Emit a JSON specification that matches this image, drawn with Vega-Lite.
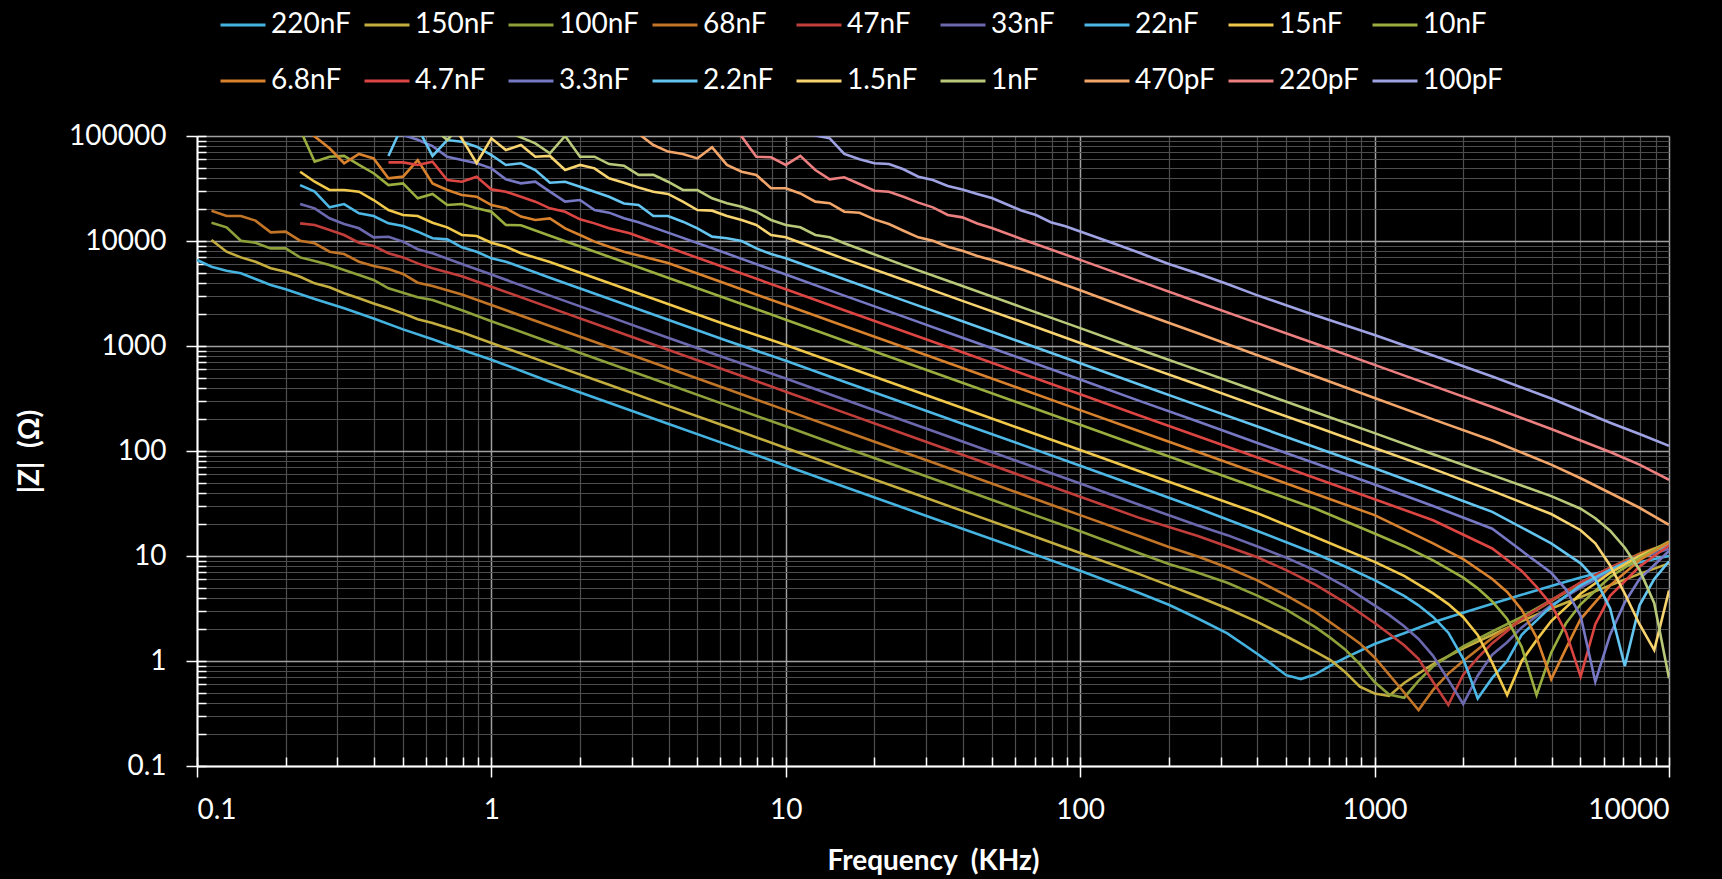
{
"$schema":"https://vega.github.io/schema/vega-lite/v6.json",
"width":1472,"height":630,
"autosize":{"type":"none"},
"padding":{"left":197,"top":136,"right":53,"bottom":113},
"background":"#000000",
"config":{"view":{"stroke":null},"axis":{"labelFont":"Lato","titleFont":"Lato"}},
"data":{"values":[
{"c":"220nF","f":0.1,"z":6590},{"c":"220nF","f":0.112,"z":5690},{"c":"220nF","f":0.126,"z":5210},{"c":"220nF","f":0.141,"z":4920},{"c":"220nF","f":0.158,"z":4345},{"c":"220nF","f":0.178,"z":3810},{"c":"220nF","f":0.2,"z":3470},{"c":"220nF","f":0.251,"z":2805},{"c":"220nF","f":0.316,"z":2285},{"c":"220nF","f":0.398,"z":1830},{"c":"220nF","f":0.501,"z":1440},{"c":"220nF","f":0.631,"z":1160},{"c":"220nF","f":0.794,"z":923},{"c":"220nF","f":1,"z":741},{"c":"220nF","f":1.58,"z":457},{"c":"220nF","f":2.51,"z":288},{"c":"220nF","f":3.98,"z":182},{"c":"220nF","f":6.31,"z":115},{"c":"220nF","f":10,"z":72.4},{"c":"220nF","f":15.8,"z":45.7},{"c":"220nF","f":25.1,"z":28.8},{"c":"220nF","f":39.8,"z":18.2},{"c":"220nF","f":63.1,"z":11.5},{"c":"220nF","f":100,"z":7.24},{"c":"220nF","f":158,"z":4.47},{"c":"220nF","f":200,"z":3.43},{"c":"220nF","f":251,"z":2.54},{"c":"220nF","f":316,"z":1.83},{"c":"220nF","f":398,"z":1.18},{"c":"220nF","f":447,"z":0.933},{"c":"220nF","f":501,"z":0.733},{"c":"220nF","f":562,"z":0.673},{"c":"220nF","f":631,"z":0.75},{"c":"220nF","f":708,"z":0.902},{"c":"220nF","f":794,"z":1.07},{"c":"220nF","f":1000,"z":1.45},{"c":"220nF","f":1260,"z":1.84},{"c":"220nF","f":1580,"z":2.34},{"c":"220nF","f":2000,"z":2.88},{"c":"220nF","f":2510,"z":3.51},{"c":"220nF","f":3160,"z":4.27},{"c":"220nF","f":3980,"z":5.19},{"c":"220nF","f":5010,"z":6.24},{"c":"220nF","f":6310,"z":7.41},{"c":"220nF","f":7940,"z":8.71},{"c":"220nF","f":10000,"z":10},
{"c":"150nF","f":0.112,"z":10230},{"c":"150nF","f":0.126,"z":7910},{"c":"150nF","f":0.141,"z":6980},{"c":"150nF","f":0.158,"z":6350},{"c":"150nF","f":0.178,"z":5500},{"c":"150nF","f":0.2,"z":5100},{"c":"150nF","f":0.224,"z":4570},{"c":"150nF","f":0.251,"z":3950},{"c":"150nF","f":0.282,"z":3620},{"c":"150nF","f":0.316,"z":3180},{"c":"150nF","f":0.355,"z":2845},{"c":"150nF","f":0.398,"z":2545},{"c":"150nF","f":0.447,"z":2285},{"c":"150nF","f":0.501,"z":2045},{"c":"150nF","f":0.562,"z":1795},{"c":"150nF","f":0.631,"z":1660},{"c":"150nF","f":0.794,"z":1350},{"c":"150nF","f":1,"z":1070},{"c":"150nF","f":1.58,"z":676},{"c":"150nF","f":2.51,"z":427},{"c":"150nF","f":3.98,"z":269},{"c":"150nF","f":6.31,"z":170},{"c":"150nF","f":10,"z":107},{"c":"150nF","f":15.8,"z":67.6},{"c":"150nF","f":25.1,"z":42.7},{"c":"150nF","f":39.8,"z":26.9},{"c":"150nF","f":63.1,"z":17},{"c":"150nF","f":100,"z":10.7},{"c":"150nF","f":158,"z":6.76},{"c":"150nF","f":200,"z":5.25},{"c":"150nF","f":251,"z":4.12},{"c":"150nF","f":316,"z":3.16},{"c":"150nF","f":398,"z":2.37},{"c":"150nF","f":501,"z":1.72},{"c":"150nF","f":631,"z":1.22},{"c":"150nF","f":708,"z":1.02},{"c":"150nF","f":794,"z":0.785},{"c":"150nF","f":891,"z":0.569},{"c":"150nF","f":1000,"z":0.49},{"c":"150nF","f":1120,"z":0.465},{"c":"150nF","f":1260,"z":0.617},{"c":"150nF","f":1580,"z":0.933},{"c":"150nF","f":2000,"z":1.32},{"c":"150nF","f":2510,"z":1.78},{"c":"150nF","f":3160,"z":2.4},{"c":"150nF","f":3980,"z":3.16},{"c":"150nF","f":5010,"z":4.07},{"c":"150nF","f":6310,"z":5.25},{"c":"150nF","f":7940,"z":6.76},{"c":"150nF","f":10000,"z":8.51},
{"c":"100nF","f":0.112,"z":14900},{"c":"100nF","f":0.126,"z":13500},{"c":"100nF","f":0.141,"z":10070},{"c":"100nF","f":0.158,"z":9640},{"c":"100nF","f":0.178,"z":8510},{"c":"100nF","f":0.2,"z":8510},{"c":"100nF","f":0.224,"z":6980},{"c":"100nF","f":0.251,"z":6455},{"c":"100nF","f":0.282,"z":5900},{"c":"100nF","f":0.316,"z":5295},{"c":"100nF","f":0.355,"z":4745},{"c":"100nF","f":0.398,"z":4255},{"c":"100nF","f":0.447,"z":3540},{"c":"100nF","f":0.501,"z":3220},{"c":"100nF","f":0.562,"z":2910},{"c":"100nF","f":0.631,"z":2740},{"c":"100nF","f":0.794,"z":2190},{"c":"100nF","f":1,"z":1720},{"c":"100nF","f":1.58,"z":1085},{"c":"100nF","f":2.51,"z":684},{"c":"100nF","f":3.98,"z":432},{"c":"100nF","f":6.31,"z":272},{"c":"100nF","f":10,"z":172},{"c":"100nF","f":15.8,"z":108},{"c":"100nF","f":25.1,"z":68.4},{"c":"100nF","f":39.8,"z":43.2},{"c":"100nF","f":63.1,"z":27.2},{"c":"100nF","f":100,"z":17.2},{"c":"100nF","f":158,"z":10.7},{"c":"100nF","f":200,"z":8.41},{"c":"100nF","f":251,"z":6.92},{"c":"100nF","f":316,"z":5.56},{"c":"100nF","f":398,"z":4.22},{"c":"100nF","f":501,"z":3.09},{"c":"100nF","f":631,"z":2.09},{"c":"100nF","f":708,"z":1.66},{"c":"100nF","f":794,"z":1.29},{"c":"100nF","f":891,"z":0.933},{"c":"100nF","f":1000,"z":0.631},{"c":"100nF","f":1120,"z":0.479},{"c":"100nF","f":1260,"z":0.447},{"c":"100nF","f":1410,"z":0.646},{"c":"100nF","f":1580,"z":0.891},{"c":"100nF","f":2000,"z":1.38},{"c":"100nF","f":2510,"z":1.91},{"c":"100nF","f":3160,"z":2.63},{"c":"100nF","f":3980,"z":3.8},{"c":"100nF","f":5010,"z":5.5},{"c":"100nF","f":6310,"z":7.59},{"c":"100nF","f":7940,"z":10},{"c":"100nF","f":10000,"z":12.6},
{"c":"68nF","f":0.112,"z":19450},{"c":"68nF","f":0.126,"z":17300},{"c":"68nF","f":0.141,"z":17300},{"c":"68nF","f":0.158,"z":15630},{"c":"68nF","f":0.178,"z":12100},{"c":"68nF","f":0.2,"z":12270},{"c":"68nF","f":0.224,"z":10070},{"c":"68nF","f":0.251,"z":9510},{"c":"68nF","f":0.282,"z":7910},{"c":"68nF","f":0.316,"z":7520},{"c":"68nF","f":0.355,"z":6350},{"c":"68nF","f":0.398,"z":5780},{"c":"68nF","f":0.447,"z":5410},{"c":"68nF","f":0.501,"z":4850},{"c":"68nF","f":0.562,"z":4010},{"c":"68nF","f":0.631,"z":3720},{"c":"68nF","f":0.794,"z":3090},{"c":"68nF","f":1,"z":2455},{"c":"68nF","f":1.58,"z":1550},{"c":"68nF","f":2.51,"z":977},{"c":"68nF","f":3.98,"z":617},{"c":"68nF","f":6.31,"z":389},{"c":"68nF","f":10,"z":245},{"c":"68nF","f":15.8,"z":155},{"c":"68nF","f":25.1,"z":97.7},{"c":"68nF","f":39.8,"z":61.7},{"c":"68nF","f":63.1,"z":38.9},{"c":"68nF","f":100,"z":24.5},{"c":"68nF","f":158,"z":15.5},{"c":"68nF","f":200,"z":12.2},{"c":"68nF","f":251,"z":9.89},{"c":"68nF","f":316,"z":7.76},{"c":"68nF","f":398,"z":5.89},{"c":"68nF","f":501,"z":4.22},{"c":"68nF","f":631,"z":2.92},{"c":"68nF","f":794,"z":1.86},{"c":"68nF","f":891,"z":1.47},{"c":"68nF","f":1000,"z":1.08},{"c":"68nF","f":1120,"z":0.741},{"c":"68nF","f":1260,"z":0.501},{"c":"68nF","f":1410,"z":0.341},{"c":"68nF","f":1580,"z":0.53},{"c":"68nF","f":1780,"z":0.759},{"c":"68nF","f":2000,"z":1.0},{"c":"68nF","f":2510,"z":1.66},{"c":"68nF","f":3160,"z":2.51},{"c":"68nF","f":3980,"z":3.72},{"c":"68nF","f":5010,"z":5.5},{"c":"68nF","f":6310,"z":7.76},{"c":"68nF","f":7940,"z":10.5},{"c":"68nF","f":10000,"z":13.2},
{"c":"47nF","f":0.224,"z":14720},{"c":"47nF","f":0.251,"z":14190},{"c":"47nF","f":0.282,"z":12730},{"c":"47nF","f":0.316,"z":11400},{"c":"47nF","f":0.355,"z":9640},{"c":"47nF","f":0.398,"z":8950},{"c":"47nF","f":0.447,"z":7640},{"c":"47nF","f":0.501,"z":6980},{"c":"47nF","f":0.562,"z":6120},{"c":"47nF","f":0.631,"z":5500},{"c":"47nF","f":0.794,"z":4620},{"c":"47nF","f":1,"z":3670},{"c":"47nF","f":1.58,"z":2320},{"c":"47nF","f":2.51,"z":1460},{"c":"47nF","f":3.98,"z":923},{"c":"47nF","f":6.31,"z":582},{"c":"47nF","f":10,"z":367},{"c":"47nF","f":15.8,"z":232},{"c":"47nF","f":25.1,"z":146},{"c":"47nF","f":39.8,"z":92.3},{"c":"47nF","f":63.1,"z":58.2},{"c":"47nF","f":100,"z":36.7},{"c":"47nF","f":158,"z":23.2},{"c":"47nF","f":251,"z":15.5},{"c":"47nF","f":316,"z":12.3},{"c":"47nF","f":398,"z":9.77},{"c":"47nF","f":501,"z":7.33},{"c":"47nF","f":631,"z":5.31},{"c":"47nF","f":794,"z":3.59},{"c":"47nF","f":1000,"z":2.3},{"c":"47nF","f":1120,"z":1.82},{"c":"47nF","f":1260,"z":1.41},{"c":"47nF","f":1410,"z":1.05},{"c":"47nF","f":1580,"z":0.631},{"c":"47nF","f":1780,"z":0.381},{"c":"47nF","f":2000,"z":0.741},{"c":"47nF","f":2240,"z":1.07},{"c":"47nF","f":2510,"z":1.48},{"c":"47nF","f":3160,"z":2.51},{"c":"47nF","f":3980,"z":3.8},{"c":"47nF","f":5010,"z":5.62},{"c":"47nF","f":6310,"z":7.76},{"c":"47nF","f":7940,"z":10.2},{"c":"47nF","f":10000,"z":12.6},
{"c":"33nF","f":0.224,"z":22490},{"c":"33nF","f":0.251,"z":20470},{"c":"33nF","f":0.282,"z":16440},{"c":"33nF","f":0.316,"z":14520},{"c":"33nF","f":0.355,"z":13210},{"c":"33nF","f":0.398,"z":10840},{"c":"33nF","f":0.447,"z":10990},{"c":"33nF","f":0.501,"z":9860},{"c":"33nF","f":0.562,"z":8340},{"c":"33nF","f":0.631,"z":7640},{"c":"33nF","f":0.794,"z":6030},{"c":"33nF","f":1,"z":4790},{"c":"33nF","f":1.58,"z":3020},{"c":"33nF","f":2.51,"z":1905},{"c":"33nF","f":3.98,"z":1200},{"c":"33nF","f":6.31,"z":759},{"c":"33nF","f":10,"z":490},{"c":"33nF","f":15.8,"z":309},{"c":"33nF","f":25.1,"z":195},{"c":"33nF","f":39.8,"z":123},{"c":"33nF","f":63.1,"z":77.6},{"c":"33nF","f":100,"z":49},{"c":"33nF","f":158,"z":30.9},{"c":"33nF","f":251,"z":19.5},{"c":"33nF","f":316,"z":15.8},{"c":"33nF","f":398,"z":12.4},{"c":"33nF","f":501,"z":9.66},{"c":"33nF","f":631,"z":7.24},{"c":"33nF","f":794,"z":5.13},{"c":"33nF","f":1000,"z":3.39},{"c":"33nF","f":1120,"z":2.75},{"c":"33nF","f":1260,"z":2.14},{"c":"33nF","f":1410,"z":1.62},{"c":"33nF","f":1580,"z":1.12},{"c":"33nF","f":1780,"z":0.661},{"c":"33nF","f":2000,"z":0.389},{"c":"33nF","f":2240,"z":0.724},{"c":"33nF","f":2510,"z":1.15},{"c":"33nF","f":2820,"z":1.51},{"c":"33nF","f":3160,"z":2.09},{"c":"33nF","f":3980,"z":3.39},{"c":"33nF","f":5010,"z":5.01},{"c":"33nF","f":6310,"z":7.08},{"c":"33nF","f":7940,"z":9.55},{"c":"33nF","f":10000,"z":11.7},
{"c":"22nF","f":0.224,"z":34100},{"c":"22nF","f":0.251,"z":29500},{"c":"22nF","f":0.282,"z":20940},{"c":"22nF","f":0.316,"z":22490},{"c":"22nF","f":0.355,"z":18370},{"c":"22nF","f":0.398,"z":17300},{"c":"22nF","f":0.447,"z":14720},{"c":"22nF","f":0.501,"z":13900},{"c":"22nF","f":0.562,"z":12270},{"c":"22nF","f":0.631,"z":10620},{"c":"22nF","f":0.708,"z":10370},{"c":"22nF","f":0.794,"z":8710},{"c":"22nF","f":0.891,"z":7910},{"c":"22nF","f":1,"z":6840},{"c":"22nF","f":1.12,"z":6350},{"c":"22nF","f":1.58,"z":4470},{"c":"22nF","f":2.51,"z":2820},{"c":"22nF","f":3.98,"z":1780},{"c":"22nF","f":6.31,"z":1120},{"c":"22nF","f":10,"z":724},{"c":"22nF","f":15.8,"z":457},{"c":"22nF","f":25.1,"z":288},{"c":"22nF","f":39.8,"z":182},{"c":"22nF","f":63.1,"z":115},{"c":"22nF","f":100,"z":72.4},{"c":"22nF","f":158,"z":45.7},{"c":"22nF","f":251,"z":28.5},{"c":"22nF","f":398,"z":17.4},{"c":"22nF","f":631,"z":10.5},{"c":"22nF","f":794,"z":7.94},{"c":"22nF","f":1000,"z":5.89},{"c":"22nF","f":1260,"z":4.17},{"c":"22nF","f":1410,"z":3.39},{"c":"22nF","f":1580,"z":2.63},{"c":"22nF","f":1780,"z":1.86},{"c":"22nF","f":2000,"z":1.05},{"c":"22nF","f":2240,"z":0.44},{"c":"22nF","f":2510,"z":0.69},{"c":"22nF","f":2820,"z":1.0},{"c":"22nF","f":3160,"z":1.78},{"c":"22nF","f":3980,"z":3.31},{"c":"22nF","f":5010,"z":5.25},{"c":"22nF","f":6310,"z":7.41},{"c":"22nF","f":7940,"z":10},{"c":"22nF","f":10000,"z":12.6},
{"c":"15nF","f":0.224,"z":45700},{"c":"15nF","f":0.251,"z":36700},{"c":"15nF","f":0.282,"z":30600},{"c":"15nF","f":0.316,"z":30600},{"c":"15nF","f":0.355,"z":29500},{"c":"15nF","f":0.398,"z":24550},{"c":"15nF","f":0.447,"z":19720},{"c":"15nF","f":0.501,"z":17700},{"c":"15nF","f":0.562,"z":17300},{"c":"15nF","f":0.631,"z":14930},{"c":"15nF","f":0.708,"z":13490},{"c":"15nF","f":0.794,"z":11400},{"c":"15nF","f":0.891,"z":11160},{"c":"15nF","f":1,"z":9640},{"c":"15nF","f":1.12,"z":8830},{"c":"15nF","f":1.26,"z":7640},{"c":"15nF","f":1.58,"z":6310},{"c":"15nF","f":2.51,"z":3980},{"c":"15nF","f":3.98,"z":2510},{"c":"15nF","f":6.31,"z":1585},{"c":"15nF","f":10,"z":1020},{"c":"15nF","f":15.8,"z":646},{"c":"15nF","f":25.1,"z":407},{"c":"15nF","f":39.8,"z":257},{"c":"15nF","f":63.1,"z":162},{"c":"15nF","f":100,"z":102},{"c":"15nF","f":158,"z":64.6},{"c":"15nF","f":251,"z":40.7},{"c":"15nF","f":398,"z":25.7},{"c":"15nF","f":631,"z":15.1},{"c":"15nF","f":1000,"z":8.79},{"c":"15nF","f":1260,"z":6.46},{"c":"15nF","f":1580,"z":4.41},{"c":"15nF","f":1780,"z":3.48},{"c":"15nF","f":2000,"z":2.61},{"c":"15nF","f":2240,"z":1.77},{"c":"15nF","f":2510,"z":0.96},{"c":"15nF","f":2820,"z":0.474},{"c":"15nF","f":3160,"z":1.0},{"c":"15nF","f":3550,"z":1.58},{"c":"15nF","f":3980,"z":2.4},{"c":"15nF","f":5010,"z":4.37},{"c":"15nF","f":6310,"z":6.92},{"c":"15nF","f":7940,"z":10},{"c":"15nF","f":10000,"z":13.5},
{"c":"10nF","f":0.224,"z":115000},{"c":"10nF","f":0.251,"z":56900},{"c":"10nF","f":0.282,"z":63500},{"c":"10nF","f":0.316,"z":64600},{"c":"10nF","f":0.355,"z":53000},{"c":"10nF","f":0.398,"z":44200},{"c":"10nF","f":0.447,"z":34100},{"c":"10nF","f":0.501,"z":35400},{"c":"10nF","f":0.562,"z":25470},{"c":"10nF","f":0.631,"z":28100},{"c":"10nF","f":0.708,"z":22030},{"c":"10nF","f":0.794,"z":22490},{"c":"10nF","f":0.891,"z":20470},{"c":"10nF","f":1,"z":19000},{"c":"10nF","f":1.12,"z":14190},{"c":"10nF","f":1.26,"z":14130},{"c":"10nF","f":1.58,"z":11220},{"c":"10nF","f":2.51,"z":7080},{"c":"10nF","f":3.98,"z":4470},{"c":"10nF","f":6.31,"z":2820},{"c":"10nF","f":10,"z":1780},{"c":"10nF","f":15.8,"z":1120},{"c":"10nF","f":25.1,"z":708},{"c":"10nF","f":39.8,"z":447},{"c":"10nF","f":63.1,"z":282},{"c":"10nF","f":100,"z":178},{"c":"10nF","f":158,"z":112},{"c":"10nF","f":251,"z":70.8},{"c":"10nF","f":398,"z":44.7},{"c":"10nF","f":631,"z":28.2},{"c":"10nF","f":1000,"z":16.4},{"c":"10nF","f":1260,"z":12.4},{"c":"10nF","f":1580,"z":9.08},{"c":"10nF","f":2000,"z":6.22},{"c":"10nF","f":2240,"z":4.92},{"c":"10nF","f":2510,"z":3.69},{"c":"10nF","f":2820,"z":2.51},{"c":"10nF","f":3160,"z":1.36},{"c":"10nF","f":3550,"z":0.474},{"c":"10nF","f":3980,"z":1.2},{"c":"10nF","f":4470,"z":2.29},{"c":"10nF","f":5010,"z":3.47},{"c":"10nF","f":6310,"z":6.31},{"c":"10nF","f":7940,"z":9.55},{"c":"10nF","f":10000,"z":13.8},
{"c":"6.8nF","f":0.224,"z":130000},{"c":"6.8nF","f":0.251,"z":99000},{"c":"6.8nF","f":0.282,"z":76400},{"c":"6.8nF","f":0.316,"z":55000},{"c":"6.8nF","f":0.355,"z":67500},{"c":"6.8nF","f":0.398,"z":61200},{"c":"6.8nF","f":0.447,"z":39500},{"c":"6.8nF","f":0.501,"z":41000},{"c":"6.8nF","f":0.562,"z":59000},{"c":"6.8nF","f":0.631,"z":35400},{"c":"6.8nF","f":0.708,"z":30600},{"c":"6.8nF","f":0.794,"z":27400},{"c":"6.8nF","f":0.891,"z":26400},{"c":"6.8nF","f":1,"z":22000},{"c":"6.8nF","f":1.12,"z":20500},{"c":"6.8nF","f":1.26,"z":17100},{"c":"6.8nF","f":1.41,"z":15850},{"c":"6.8nF","f":1.58,"z":16400},{"c":"6.8nF","f":1.78,"z":13200},{"c":"6.8nF","f":2,"z":11400},{"c":"6.8nF","f":2.24,"z":9860},{"c":"6.8nF","f":2.51,"z":8830},{"c":"6.8nF","f":2.82,"z":7910},{"c":"6.8nF","f":3.98,"z":6170},{"c":"6.8nF","f":6.31,"z":3890},{"c":"6.8nF","f":10,"z":2455},{"c":"6.8nF","f":15.8,"z":1550},{"c":"6.8nF","f":25.1,"z":977},{"c":"6.8nF","f":39.8,"z":617},{"c":"6.8nF","f":63.1,"z":389},{"c":"6.8nF","f":100,"z":245},{"c":"6.8nF","f":158,"z":155},{"c":"6.8nF","f":251,"z":97.7},{"c":"6.8nF","f":398,"z":61.7},{"c":"6.8nF","f":631,"z":38.9},{"c":"6.8nF","f":1000,"z":24.5},{"c":"6.8nF","f":1580,"z":13.2},{"c":"6.8nF","f":2000,"z":9.35},{"c":"6.8nF","f":2510,"z":6.05},{"c":"6.8nF","f":2820,"z":4.54},{"c":"6.8nF","f":3160,"z":3.08},{"c":"6.8nF","f":3550,"z":1.67},{"c":"6.8nF","f":3980,"z":0.67},{"c":"6.8nF","f":4470,"z":1.32},{"c":"6.8nF","f":5010,"z":2.51},{"c":"6.8nF","f":5620,"z":3.63},{"c":"6.8nF","f":6310,"z":5.25},{"c":"6.8nF","f":7940,"z":9.12},{"c":"6.8nF","f":10000,"z":13.5},
{"c":"4.7nF","f":0.447,"z":56100},{"c":"4.7nF","f":0.501,"z":56100},{"c":"4.7nF","f":0.562,"z":53000},{"c":"4.7nF","f":0.631,"z":56900},{"c":"4.7nF","f":0.708,"z":38100},{"c":"4.7nF","f":0.794,"z":36700},{"c":"4.7nF","f":0.891,"z":41000},{"c":"4.7nF","f":1,"z":31000},{"c":"4.7nF","f":1.12,"z":29500},{"c":"4.7nF","f":1.26,"z":26400},{"c":"4.7nF","f":1.41,"z":23700},{"c":"4.7nF","f":1.58,"z":20470},{"c":"4.7nF","f":1.78,"z":19000},{"c":"4.7nF","f":2,"z":16070},{"c":"4.7nF","f":2.24,"z":14720},{"c":"4.7nF","f":2.51,"z":13200},{"c":"4.7nF","f":2.95,"z":11830},{"c":"4.7nF","f":3.98,"z":8710},{"c":"4.7nF","f":6.31,"z":5500},{"c":"4.7nF","f":10,"z":3470},{"c":"4.7nF","f":15.8,"z":2190},{"c":"4.7nF","f":25.1,"z":1380},{"c":"4.7nF","f":39.8,"z":871},{"c":"4.7nF","f":63.1,"z":550},{"c":"4.7nF","f":100,"z":347},{"c":"4.7nF","f":158,"z":219},{"c":"4.7nF","f":251,"z":138},{"c":"4.7nF","f":398,"z":87.1},{"c":"4.7nF","f":631,"z":55},{"c":"4.7nF","f":1000,"z":34.7},{"c":"4.7nF","f":1580,"z":21.9},{"c":"4.7nF","f":2510,"z":11.8},{"c":"4.7nF","f":3160,"z":7.2},{"c":"4.7nF","f":3550,"z":5.09},{"c":"4.7nF","f":3980,"z":3.46},{"c":"4.7nF","f":4470,"z":1.87},{"c":"4.7nF","f":5010,"z":0.71},{"c":"4.7nF","f":5620,"z":2.24},{"c":"4.7nF","f":6310,"z":4.17},{"c":"4.7nF","f":7940,"z":7.94},{"c":"4.7nF","f":10000,"z":12.6},
{"c":"3.3nF","f":0.447,"z":120000},{"c":"3.3nF","f":0.501,"z":102000},{"c":"3.3nF","f":0.562,"z":92000},{"c":"3.3nF","f":0.631,"z":80000},{"c":"3.3nF","f":0.708,"z":63500},{"c":"3.3nF","f":0.794,"z":59000},{"c":"3.3nF","f":0.891,"z":55000},{"c":"3.3nF","f":1,"z":49200},{"c":"3.3nF","f":1.12,"z":38600},{"c":"3.3nF","f":1.26,"z":35400},{"c":"3.3nF","f":1.41,"z":36700},{"c":"3.3nF","f":1.58,"z":29500},{"c":"3.3nF","f":1.78,"z":23700},{"c":"3.3nF","f":2,"z":24550},{"c":"3.3nF","f":2.24,"z":19720},{"c":"3.3nF","f":2.51,"z":18620},{"c":"3.3nF","f":2.82,"z":16500},{"c":"3.3nF","f":3.16,"z":15100},{"c":"3.3nF","f":3.98,"z":12020},{"c":"3.3nF","f":6.31,"z":7590},{"c":"3.3nF","f":10,"z":4790},{"c":"3.3nF","f":15.8,"z":3020},{"c":"3.3nF","f":25.1,"z":1905},{"c":"3.3nF","f":39.8,"z":1200},{"c":"3.3nF","f":63.1,"z":759},{"c":"3.3nF","f":100,"z":479},{"c":"3.3nF","f":158,"z":302},{"c":"3.3nF","f":251,"z":191},{"c":"3.3nF","f":398,"z":120},{"c":"3.3nF","f":631,"z":75.9},{"c":"3.3nF","f":1000,"z":47.9},{"c":"3.3nF","f":1580,"z":29.9},{"c":"3.3nF","f":2510,"z":18.2},{"c":"3.3nF","f":3160,"z":11.2},{"c":"3.3nF","f":3980,"z":6.92},{"c":"3.3nF","f":4470,"z":4.79},{"c":"3.3nF","f":5010,"z":2.69},{"c":"3.3nF","f":5620,"z":0.635},{"c":"3.3nF","f":6310,"z":1.78},{"c":"3.3nF","f":7080,"z":3.63},{"c":"3.3nF","f":7940,"z":6.03},{"c":"3.3nF","f":10000,"z":11.2},
{"c":"2.2nF","f":0.447,"z":64600},{"c":"2.2nF","f":0.501,"z":130000},{"c":"2.2nF","f":0.562,"z":120000},{"c":"2.2nF","f":0.631,"z":64600},{"c":"2.2nF","f":0.708,"z":91600},{"c":"2.2nF","f":0.794,"z":88300},{"c":"2.2nF","f":0.891,"z":79100},{"c":"2.2nF","f":1,"z":65900},{"c":"2.2nF","f":1.12,"z":53000},{"c":"2.2nF","f":1.26,"z":55000},{"c":"2.2nF","f":1.41,"z":47400},{"c":"2.2nF","f":1.58,"z":35900},{"c":"2.2nF","f":1.78,"z":36700},{"c":"2.2nF","f":2,"z":32900},{"c":"2.2nF","f":2.24,"z":29500},{"c":"2.2nF","f":2.51,"z":26400},{"c":"2.2nF","f":2.82,"z":22800},{"c":"2.2nF","f":3.16,"z":22000},{"c":"2.2nF","f":3.55,"z":17300},{"c":"2.2nF","f":3.98,"z":17300},{"c":"2.2nF","f":4.47,"z":15280},{"c":"2.2nF","f":5.01,"z":13210},{"c":"2.2nF","f":5.62,"z":11000},{"c":"2.2nF","f":6.31,"z":10620},{"c":"2.2nF","f":7.08,"z":10000},{"c":"2.2nF","f":7.94,"z":8510},{"c":"2.2nF","f":8.91,"z":7520},{"c":"2.2nF","f":10,"z":6840},{"c":"2.2nF","f":15.8,"z":4315},{"c":"2.2nF","f":25.1,"z":2720},{"c":"2.2nF","f":39.8,"z":1720},{"c":"2.2nF","f":63.1,"z":1085},{"c":"2.2nF","f":100,"z":684},{"c":"2.2nF","f":158,"z":432},{"c":"2.2nF","f":251,"z":272},{"c":"2.2nF","f":398,"z":172},{"c":"2.2nF","f":631,"z":108},{"c":"2.2nF","f":1000,"z":68.4},{"c":"2.2nF","f":1580,"z":42.7},{"c":"2.2nF","f":2510,"z":26.3},{"c":"2.2nF","f":3980,"z":13.2},{"c":"2.2nF","f":5010,"z":8.51},{"c":"2.2nF","f":5620,"z":6.03},{"c":"2.2nF","f":6310,"z":3.16},{"c":"2.2nF","f":7080,"z":0.895},{"c":"2.2nF","f":7940,"z":3.39},{"c":"2.2nF","f":8910,"z":6.03},{"c":"2.2nF","f":10000,"z":8.91},
{"c":"1.5nF","f":0.708,"z":160000},{"c":"1.5nF","f":0.891,"z":55000},{"c":"1.5nF","f":1,"z":95000},{"c":"1.5nF","f":1.12,"z":73600},{"c":"1.5nF","f":1.26,"z":82000},{"c":"1.5nF","f":1.41,"z":63500},{"c":"1.5nF","f":1.58,"z":64600},{"c":"1.5nF","f":1.78,"z":47400},{"c":"1.5nF","f":2,"z":53000},{"c":"1.5nF","f":2.24,"z":49200},{"c":"1.5nF","f":2.51,"z":39500},{"c":"1.5nF","f":2.82,"z":35900},{"c":"1.5nF","f":3.16,"z":32400},{"c":"1.5nF","f":3.55,"z":29500},{"c":"1.5nF","f":3.98,"z":28100},{"c":"1.5nF","f":4.47,"z":23700},{"c":"1.5nF","f":5.01,"z":19700},{"c":"1.5nF","f":5.62,"z":19450},{"c":"1.5nF","f":6.31,"z":17300},{"c":"1.5nF","f":7.08,"z":15850},{"c":"1.5nF","f":7.94,"z":14200},{"c":"1.5nF","f":8.91,"z":11400},{"c":"1.5nF","f":10,"z":10840},{"c":"1.5nF","f":15.8,"z":6760},{"c":"1.5nF","f":25.1,"z":4270},{"c":"1.5nF","f":39.8,"z":2690},{"c":"1.5nF","f":63.1,"z":1700},{"c":"1.5nF","f":100,"z":1070},{"c":"1.5nF","f":158,"z":676},{"c":"1.5nF","f":251,"z":427},{"c":"1.5nF","f":398,"z":269},{"c":"1.5nF","f":631,"z":170},{"c":"1.5nF","f":1000,"z":107},{"c":"1.5nF","f":1580,"z":67.6},{"c":"1.5nF","f":2510,"z":41.7},{"c":"1.5nF","f":3980,"z":25.1},{"c":"1.5nF","f":5010,"z":17.6},{"c":"1.5nF","f":5620,"z":13.2},{"c":"1.5nF","f":6310,"z":8.13},{"c":"1.5nF","f":7080,"z":4.37},{"c":"1.5nF","f":7940,"z":2.24},{"c":"1.5nF","f":8910,"z":1.27},{"c":"1.5nF","f":10000,"z":4.68},
{"c":"1nF","f":0.447,"z":200000},{"c":"1nF","f":0.501,"z":150000},{"c":"1nF","f":0.562,"z":140000},{"c":"1nF","f":0.631,"z":120000},{"c":"1nF","f":0.708,"z":91600},{"c":"1nF","f":0.794,"z":130000},{"c":"1nF","f":0.891,"z":140000},{"c":"1nF","f":1,"z":135000},{"c":"1nF","f":1.12,"z":112000},{"c":"1nF","f":1.26,"z":97000},{"c":"1nF","f":1.41,"z":85100},{"c":"1nF","f":1.58,"z":68400},{"c":"1nF","f":1.78,"z":100000},{"c":"1nF","f":2,"z":63500},{"c":"1nF","f":2.24,"z":63500},{"c":"1nF","f":2.51,"z":54000},{"c":"1nF","f":2.82,"z":52100},{"c":"1nF","f":3.16,"z":42600},{"c":"1nF","f":3.55,"z":42600},{"c":"1nF","f":3.98,"z":36700},{"c":"1nF","f":4.47,"z":30600},{"c":"1nF","f":5.01,"z":30600},{"c":"1nF","f":5.62,"z":25500},{"c":"1nF","f":6.31,"z":22900},{"c":"1nF","f":7.08,"z":21200},{"c":"1nF","f":7.94,"z":19000},{"c":"1nF","f":8.91,"z":15850},{"c":"1nF","f":10,"z":14200},{"c":"1nF","f":11.2,"z":13500},{"c":"1nF","f":12.6,"z":11400},{"c":"1nF","f":14.1,"z":10840},{"c":"1nF","f":15.8,"z":9510},{"c":"1nF","f":25.1,"z":5890},{"c":"1nF","f":39.8,"z":3720},{"c":"1nF","f":63.1,"z":2345},{"c":"1nF","f":100,"z":1480},{"c":"1nF","f":158,"z":933},{"c":"1nF","f":251,"z":589},{"c":"1nF","f":398,"z":372},{"c":"1nF","f":631,"z":234},{"c":"1nF","f":1000,"z":148},{"c":"1nF","f":1580,"z":93.3},{"c":"1nF","f":2510,"z":58.9},{"c":"1nF","f":3980,"z":37.2},{"c":"1nF","f":5010,"z":28.2},{"c":"1nF","f":5620,"z":22.9},{"c":"1nF","f":6310,"z":17.4},{"c":"1nF","f":7080,"z":12},{"c":"1nF","f":7940,"z":7.41},{"c":"1nF","f":8910,"z":3.55},{"c":"1nF","f":10000,"z":0.684},
{"c":"470pF","f":2.82,"z":150000},{"c":"470pF","f":3.16,"z":105000},{"c":"470pF","f":3.55,"z":82000},{"c":"470pF","f":3.98,"z":71000},{"c":"470pF","f":4.47,"z":67400},{"c":"470pF","f":5.01,"z":61200},{"c":"470pF","f":5.62,"z":78000},{"c":"470pF","f":6.31,"z":53000},{"c":"470pF","f":7.08,"z":45700},{"c":"470pF","f":7.94,"z":42600},{"c":"470pF","f":8.91,"z":31800},{"c":"470pF","f":10,"z":31800},{"c":"470pF","f":11.2,"z":28400},{"c":"470pF","f":12.6,"z":23700},{"c":"470pF","f":14.1,"z":22900},{"c":"470pF","f":15.8,"z":19000},{"c":"470pF","f":17.8,"z":18600},{"c":"470pF","f":20,"z":16070},{"c":"470pF","f":22.4,"z":14520},{"c":"470pF","f":25.1,"z":12530},{"c":"470pF","f":28.2,"z":10840},{"c":"470pF","f":31.6,"z":10070},{"c":"470pF","f":35.5,"z":8830},{"c":"470pF","f":39.8,"z":8090},{"c":"470pF","f":44.7,"z":7190},{"c":"470pF","f":50.1,"z":6600},{"c":"470pF","f":63.1,"z":5370},{"c":"470pF","f":100,"z":3390},{"c":"470pF","f":158,"z":2110},{"c":"470pF","f":251,"z":1320},{"c":"470pF","f":398,"z":822},{"c":"470pF","f":631,"z":513},{"c":"470pF","f":1000,"z":320},{"c":"470pF","f":1580,"z":200},{"c":"470pF","f":2510,"z":126},{"c":"470pF","f":3980,"z":74.1},{"c":"470pF","f":5010,"z":55},{"c":"470pF","f":6310,"z":39.8},{"c":"470pF","f":7940,"z":28.8},{"c":"470pF","f":10000,"z":19.8},
{"c":"220pF","f":6.31,"z":140000},{"c":"220pF","f":7.08,"z":99000},{"c":"220pF","f":7.94,"z":63500},{"c":"220pF","f":8.91,"z":62700},{"c":"220pF","f":10,"z":53000},{"c":"220pF","f":11.2,"z":64600},{"c":"220pF","f":12.6,"z":47400},{"c":"220pF","f":14.1,"z":38600},{"c":"220pF","f":15.8,"z":40400},{"c":"220pF","f":17.8,"z":34900},{"c":"220pF","f":20,"z":30100},{"c":"220pF","f":22.4,"z":29500},{"c":"220pF","f":25.1,"z":26400},{"c":"220pF","f":28.2,"z":23200},{"c":"220pF","f":31.6,"z":20900},{"c":"220pF","f":35.5,"z":17700},{"c":"220pF","f":39.8,"z":16800},{"c":"220pF","f":44.7,"z":14700},{"c":"220pF","f":50.1,"z":13300},{"c":"220pF","f":63.1,"z":10470},{"c":"220pF","f":100,"z":6610},{"c":"220pF","f":158,"z":4170},{"c":"220pF","f":251,"z":2630},{"c":"220pF","f":398,"z":1660},{"c":"220pF","f":631,"z":1050},{"c":"220pF","f":1000,"z":661},{"c":"220pF","f":1580,"z":417},{"c":"220pF","f":2510,"z":263},{"c":"220pF","f":3980,"z":162},{"c":"220pF","f":6310,"z":97.7},{"c":"220pF","f":7940,"z":74.1},{"c":"220pF","f":10000,"z":53.2},
{"c":"100pF","f":11.2,"z":130000},{"c":"100pF","f":12.6,"z":101000},{"c":"100pF","f":14.1,"z":95000},{"c":"100pF","f":15.8,"z":67400},{"c":"100pF","f":17.8,"z":60000},{"c":"100pF","f":20,"z":55000},{"c":"100pF","f":22.4,"z":54100},{"c":"100pF","f":25.1,"z":48200},{"c":"100pF","f":28.2,"z":41000},{"c":"100pF","f":31.6,"z":38100},{"c":"100pF","f":35.5,"z":33400},{"c":"100pF","f":39.8,"z":31000},{"c":"100pF","f":44.7,"z":28100},{"c":"100pF","f":50.1,"z":25700},{"c":"100pF","f":56.2,"z":22400},{"c":"100pF","f":63.1,"z":19500},{"c":"100pF","f":70.8,"z":17700},{"c":"100pF","f":79.4,"z":15100},{"c":"100pF","f":89.1,"z":13800},{"c":"100pF","f":100,"z":12300},{"c":"100pF","f":126,"z":9770},{"c":"100pF","f":158,"z":7760},{"c":"100pF","f":200,"z":6030},{"c":"100pF","f":251,"z":4900},{"c":"100pF","f":316,"z":3890},{"c":"100pF","f":398,"z":3050},{"c":"100pF","f":631,"z":1950},{"c":"100pF","f":1000,"z":1270},{"c":"100pF","f":1580,"z":813},{"c":"100pF","f":2510,"z":513},{"c":"100pF","f":3980,"z":316},{"c":"100pF","f":6310,"z":186},{"c":"100pF","f":7940,"z":145},{"c":"100pF","f":10000,"z":112}
]},
"layer":[
{"mark":{"type":"point","opacity":0},
 "encoding":{
  "x":{"field":"f","type":"quantitative","scale":{"type":"log","domain":[0.1,10000],"nice":false},
   "axis":{"orient":"bottom","values":[0.1,0.2,0.3,0.4,0.5,0.6,0.7,0.8,0.9,1,2,3,4,5,6,7,8,9,10,20,30,40,50,60,70,80,90,100,200,300,400,500,600,700,800,900,1000,2000,3000,4000,5000,6000,7000,8000,9000,10000],
    "grid":true,"gridColor":"#4d4d4d","gridWidth":1.2,"ticks":true,"tickSize":-9,"tickColor":"#ffffff","tickWidth":1.5,"labels":false,"domain":false,"title":null}},
  "y":{"field":"z","type":"quantitative","scale":{"type":"log","domain":[0.1,100000],"nice":false},
   "axis":{"orient":"left","values":[0.1,0.2,0.3,0.4,0.5,0.6,0.7,0.8,0.9,1,2,3,4,5,6,7,8,9,10,20,30,40,50,60,70,80,90,100,200,300,400,500,600,700,800,900,1000,2000,3000,4000,5000,6000,7000,8000,9000,10000,20000,30000,40000,50000,60000,70000,80000,90000,100000],
    "grid":true,"gridColor":"#4d4d4d","gridWidth":1.2,"ticks":true,"tickSize":-9,"tickColor":"#ffffff","tickWidth":1.5,"labels":false,"domain":false,"title":null}}
 }},
{"mark":{"type":"line","clip":true,"strokeWidth":2.6},
 "encoding":{
  "x":{"field":"f","type":"quantitative","scale":{"type":"log","domain":[0.1,10000],"nice":false},
   "axis":{"orient":"bottom","values":[0.1,1,10,100,1000,10000],"format":"~r","grid":true,"gridColor":"#a0a0a0","gridWidth":1.4,"tickSize":11,"tickColor":"#ffffff","tickWidth":1.5,"domainColor":"#ffffff","domainWidth":2,"labelColor":"#ffffff","labelFontSize":28,"labelPadding":19,
    "title":"Frequency\u00a0\u00a0(KHz)","titleColor":"#ffffff","titleFontSize":28,"titleFontWeight":"bold","titleX":736,"titleY":95,"titleBaseline":"middle","titleAlign":"center"}},
  "y":{"field":"z","type":"quantitative","scale":{"type":"log","domain":[0.1,100000],"nice":false},
   "axis":{"orient":"left","values":[0.1,1,10,100,1000,10000,100000],"format":"~r","grid":true,"gridColor":"#a0a0a0","gridWidth":1.4,"tickSize":11,"tickColor":"#ffffff","tickWidth":1.5,"domainColor":"#ffffff","domainWidth":2,"labelColor":"#ffffff","labelFontSize":28,"labelPadding":20,
    "title":"|Z|\u00a0\u00a0(\u03a9)","titleColor":"#ffffff","titleFontSize":28,"titleFontWeight":"bold","titleAngle":-90,"titleX":-167,"titleY":315,"titleBaseline":"middle","titleAlign":"center"}},
  "color":{"field":"c","type":"nominal",
   "scale":{"domain":["220nF","150nF","100nF","68nF","47nF","33nF","22nF","15nF","10nF","6.8nF","4.7nF","3.3nF","2.2nF","1.5nF","1nF","470pF","220pF","100pF"],
    "range":["#45b3e0","#c4ae3f","#8da03a","#c27526","#c23e3b","#6b68ae","#4db8e6","#f0c84a","#9aae3f","#d9822d","#dc4542","#7678c4","#63c5f0","#f7d470","#b8c97a","#f2a66a","#ec7f7f","#9fa3e3"]},
   "legend":{"orient":"none","legendX":22,"legendY":-135,"direction":"horizontal","columns":9,"gridAlign":"all","symbolType":"stroke","symbolSize":2025,"symbolStrokeWidth":3,"labelFont":"Lato","labelFontSize":28,"labelColor":"#ffffff","labelOffset":4,"columnPadding":7,"rowPadding":18,"padding":0,"title":null}}
 }}
],
"resolve":{"axis":{"x":"independent","y":"independent"}}
}
